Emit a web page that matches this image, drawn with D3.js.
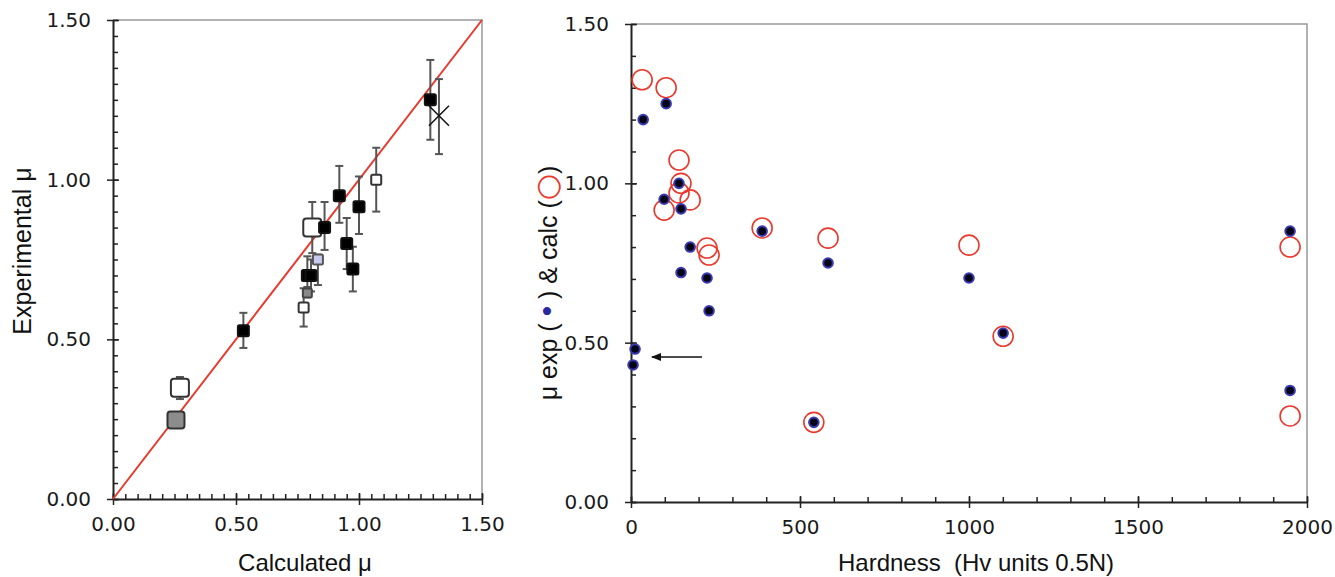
<!DOCTYPE html>
<html>
<head>
<meta charset="utf-8">
<script src="https://cdn.jsdelivr.net/npm/d3@7"></script>
<style>
  body { margin: 0; background: #fff; }
  .tick text { font-family: "DejaVu Sans", sans-serif; font-size: 20px; fill: #1a1a1a; }
  .title { font-family: "Liberation Sans", Arial, sans-serif; font-size: 24px; fill: #111; }
</style>
</head>
<body>
<div id="chart"></div>
<script>
const width = 1335;
const height = 577;

// Left panel: calculated vs experimental friction coefficient
const leftKinds = ["solid", "cross", "open", "solid", "solid", "openBig", "solid", "solid", "solid", "blue", "solid", "solid", "grey", "open", "solid", "openBig", "greyBig"];
const leftCalc = [1.29, 1.325, 1.07, 0.92, 1.0, 0.81, 0.86, 0.95, 0.975, 0.833, 0.79, 0.805, 0.79, 0.775, 0.53, 0.272, 0.256];
const leftExp = [1.25, 1.2, 1.0, 0.95, 0.915, 0.85, 0.85, 0.8, 0.72, 0.75, 0.7, 0.7, 0.645, 0.6, 0.527, 0.348, 0.247];
const leftLow = [1.125, 1.08, 0.9, 0.865, 0.83, 0.77, 0.78, 0.72, 0.65, 0.67, 0.64, 0.65, 0.632, 0.54, 0.473, 0.313, null];
const leftHigh = [1.375, 1.315, 1.1, 1.043, 1.01, 0.93, 0.93, 0.88, 0.79, 0.765, 0.76, 0.75, 0.664, 0.66, 0.583, 0.382, null];
const leftTicks = [0, 0.5, 1.0, 1.5];

// Right panel: hardness vs mu
const expHardness = [36, 104, 142, 98, 148, 175, 148, 225, 231, 12, 6, 388, 583, 541, 1000, 1101, 1950, 1950];
const expMu = [1.2, 1.25, 1.0, 0.95, 0.92, 0.8, 0.72, 0.703, 0.6, 0.48, 0.43, 0.85, 0.75, 0.25, 0.703, 0.53, 0.85, 0.35];
const calcHardness = [33, 104, 142, 148, 142, 175, 98, 225, 231, 388, 583, 541, 1000, 1101, 1950, 1950];
const calcMu = [1.325, 1.3, 1.073, 1.0, 0.97, 0.948, 0.916, 0.797, 0.775, 0.86, 0.828, 0.25, 0.806, 0.52, 0.8, 0.27];
const hardTicks = [0, 500, 1000, 1500, 2000];
const muTicks = [0, 0.5, 1.0, 1.5];
const arrowFrom = [210, 0.455];
const arrowTo = [62, 0.455];

const svg = d3.select("#chart").append("svg")
  .attr("width", width)
  .attr("height", height)
  .style("background", "#fff");

const xL = d3.scaleLinear().domain([0, 1.5]).range([113, 482]);
const yL = d3.scaleLinear().domain([0, 1.5]).range([499, 20]);
const xR = d3.scaleLinear().domain([0, 2000]).range([631, 1307]);
const yR = d3.scaleLinear().domain([0, 1.5]).range([502, 24]);

const fmt2 = d3.format(".2f");

// frame and axes for one panel
function drawAxes(x, y, xMajor, xMinor, yMajor, yMinor, xFormat) {
  const [x0, x1] = x.range();
  const [y0, y1] = y.range();
  const g = svg.append("g");

  // grey frame top/right
  g.append("path")
    .attr("d", `M${x0},${y1}H${x1}V${y0}`)
    .attr("fill", "none")
    .attr("stroke", "#999")
    .attr("stroke-width", 1.5);

  // minor ticks, inside
  g.append("g")
    .attr("transform", `translate(0,${y0})`)
    .call(d3.axisTop(x).tickValues(xMinor).tickSize(5).tickFormat(""))
    .call((s) => s.select(".domain").remove())
    .selectAll("line").attr("stroke", "#222").attr("stroke-width", 1.5);
  g.append("g")
    .attr("transform", `translate(${x0},0)`)
    .call(d3.axisRight(y).tickValues(yMinor).tickSize(5).tickFormat(""))
    .call((s) => s.select(".domain").remove())
    .selectAll("line").attr("stroke", "#222").attr("stroke-width", 1.5);

  // major ticks, crossing
  const xa = g.append("g")
    .attr("transform", `translate(0,${y0})`)
    .call(d3.axisBottom(x).tickValues(xMajor).tickSizeInner(6).tickSizeOuter(0).tickPadding(12).tickFormat(xFormat));
  xa.selectAll(".tick line").attr("y1", -6);
  const ya = g.append("g")
    .attr("transform", `translate(${x0},0)`)
    .call(d3.axisLeft(y).tickValues(yMajor).tickSizeInner(6).tickSizeOuter(0).tickPadding(16).tickFormat(fmt2));
  ya.selectAll(".tick line").attr("x1", 6);

  g.selectAll(".domain").attr("stroke", "#222").attr("stroke-width", 2);
  g.selectAll(".tick line").attr("stroke", "#222").attr("stroke-width", 1.5);
  return g;
}

drawAxes(xL, yL, leftTicks, d3.range(0, 1.501, 0.05), leftTicks, d3.range(0, 1.501, 0.05), fmt2);
drawAxes(xR, yR, hardTicks, d3.range(0, 2001, 100), muTicks, d3.range(0, 1.501, 0.1), d3.format("d"));

// ---- left panel marks ----
svg.append("line")
  .attr("x1", xL(0)).attr("y1", yL(0))
  .attr("x2", xL(1.5)).attr("y2", yL(1.5))
  .attr("stroke", "#e8392c")
  .attr("stroke-width", 2);

const errG = svg.append("g").attr("stroke", "#555").attr("stroke-width", 2);
leftCalc.forEach((c, i) => {
  if (leftLow[i] == null) return;
  const cx = xL(c);
  errG.append("line").attr("x1", cx).attr("x2", cx).attr("y1", yL(leftLow[i])).attr("y2", yL(leftHigh[i]));
  [leftLow[i], leftHigh[i]].forEach((v) => {
    errG.append("line").attr("x1", cx - 4).attr("x2", cx + 4).attr("y1", yL(v)).attr("y2", yL(v));
  });
});

const markStyle = {
  solid: { size: 11, fill: "#000", stroke: "#111" },
  open: { size: 10, fill: "#fff", stroke: "#333" },
  openBig: { size: 18, fill: "#fff", stroke: "#333" },
  blue: { size: 10, fill: "#c8cbef", stroke: "#555" },
  grey: { size: 9, fill: "#888", stroke: "#444" },
  greyBig: { size: 17, fill: "#8c8c8c", stroke: "#333" }
};

leftCalc.forEach((c, i) => {
  const cx = xL(c);
  const cy = yL(leftExp[i]);
  const k = leftKinds[i];
  if (k === "cross") {
    const h = 10;
    svg.append("path")
      .attr("d", `M${cx - h},${cy - h}L${cx + h},${cy + h}M${cx - h},${cy + h}L${cx + h},${cy - h}`)
      .attr("stroke", "#111")
      .attr("stroke-width", 1.5);
    return;
  }
  const m = markStyle[k];
  svg.append("rect")
    .attr("x", cx - m.size / 2)
    .attr("y", cy - m.size / 2)
    .attr("width", m.size)
    .attr("height", m.size)
    .attr("rx", m.size > 14 ? 3 : 1.5)
    .attr("fill", m.fill)
    .attr("stroke", m.stroke)
    .attr("stroke-width", 2);
});

// ---- right panel marks ----
svg.append("g").selectAll("circle")
  .data(calcHardness)
  .join("circle")
  .attr("cx", (d) => xR(d))
  .attr("cy", (d, i) => yR(calcMu[i]))
  .attr("r", 10)
  .attr("fill", "none")
  .attr("stroke", "#e8392c")
  .attr("stroke-width", 1.6);

svg.append("g").selectAll("circle")
  .data(expHardness)
  .join("circle")
  .attr("cx", (d) => xR(d))
  .attr("cy", (d, i) => yR(expMu[i]))
  .attr("r", 4.8)
  .attr("fill", "#050515")
  .attr("stroke", "#3a3ab0")
  .attr("stroke-width", 2);

// arrow
svg.append("defs").append("marker")
  .attr("id", "head")
  .attr("viewBox", "0 0 10 10")
  .attr("refX", 9).attr("refY", 5)
  .attr("markerWidth", 7).attr("markerHeight", 7)
  .attr("orient", "auto")
  .append("path")
  .attr("d", "M0,1L10,5L0,9Z")
  .attr("fill", "#111");

svg.append("line")
  .attr("x1", xR(arrowFrom[0])).attr("y1", yR(arrowFrom[1]))
  .attr("x2", xR(arrowTo[0])).attr("y2", yR(arrowTo[1]))
  .attr("stroke", "#111")
  .attr("stroke-width", 1.5)
  .attr("marker-end", "url(#head)");

// ---- titles ----
svg.append("text").attr("class", "title")
  .attr("x", 305).attr("y", 571)
  .attr("text-anchor", "middle")
  .text("Calculated μ");

svg.append("text").attr("class", "title")
  .attr("x", 976).attr("y", 571)
  .attr("text-anchor", "middle")
  .attr("xml:space", "preserve")
  .text("Hardness  (Hv units 0.5N)");

svg.append("text").attr("class", "title")
  .attr("transform", "translate(31,251) rotate(-90)")
  .attr("text-anchor", "middle")
  .style("font-size", "25px")
  .text("Experimental μ");

const yt = svg.append("text").attr("class", "title")
  .attr("transform", "translate(557,283) rotate(-90)")
  .attr("text-anchor", "middle")
  .style("font-size", "25px")
  .attr("xml:space", "preserve");
yt.append("tspan").text("μ exp ( ");
yt.append("tspan").attr("fill", "#2a2aa0").style("font-size", "30px").text("•");
yt.append("tspan").text(" ) & calc (");
yt.append("tspan").attr("fill", "#e8392c").style("font-size", "30px").style("font-family", "DejaVu Sans").text("○");
yt.append("tspan").text(")");
</script>
</body>
</html>
